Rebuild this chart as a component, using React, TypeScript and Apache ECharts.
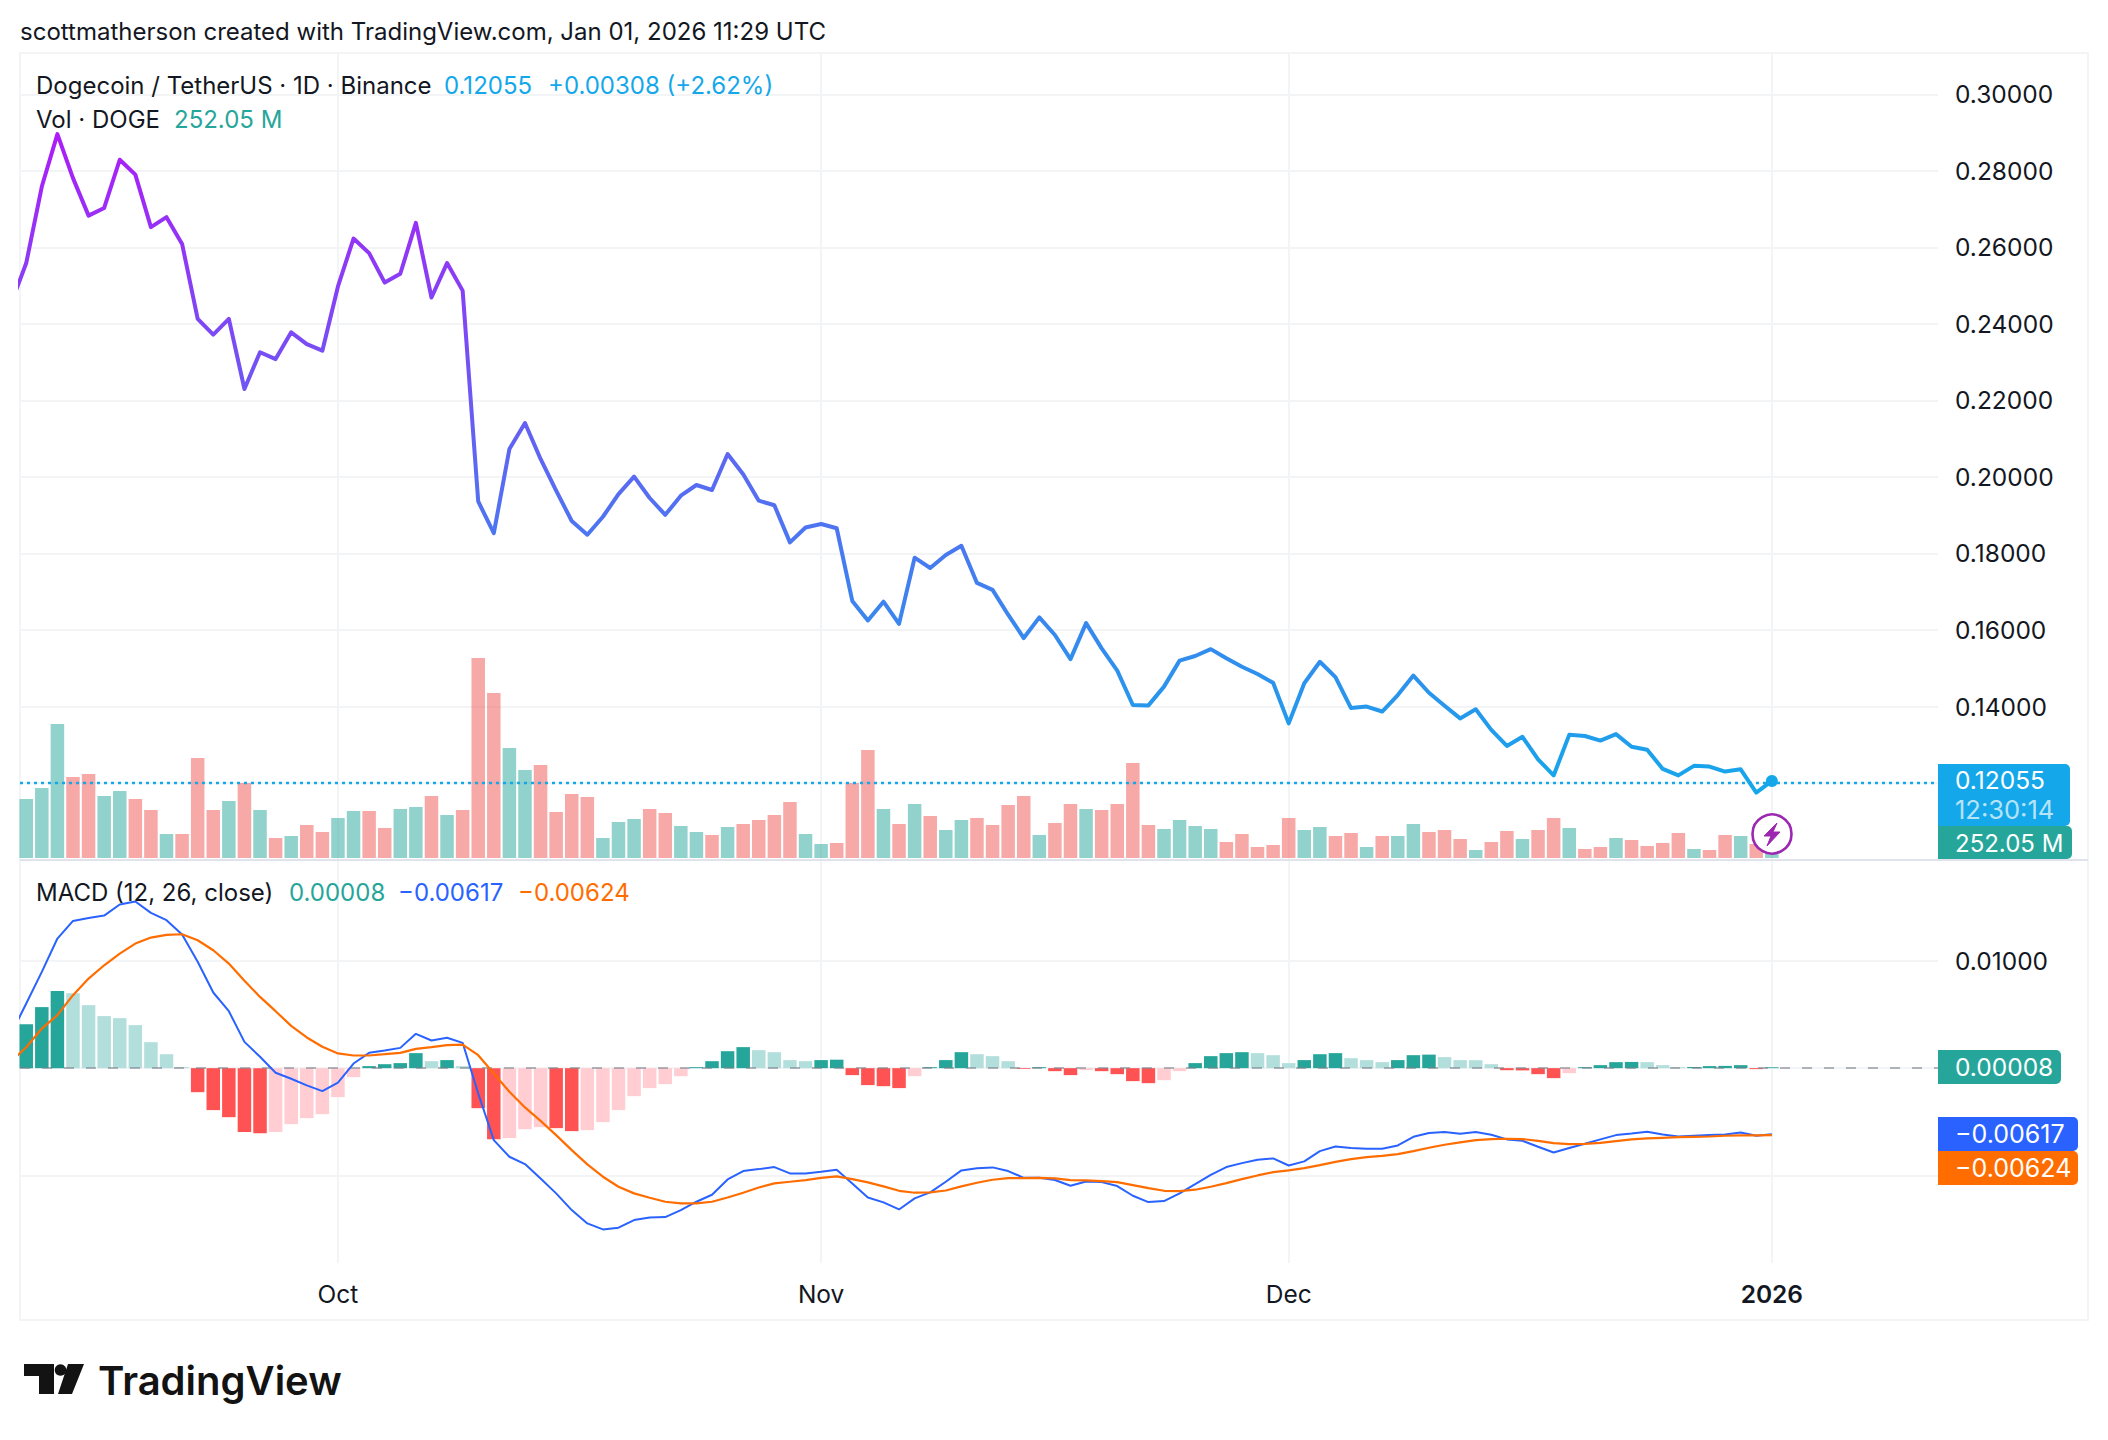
import React, { useEffect, useRef } from "react";
import * as echarts from "echarts";

const DAY = 86400000;
const START = Date.UTC(2025, 8, 10); // first close: 10 Sep 2025
const MONTH_TICKS = [Date.UTC(2025, 9, 1), Date.UTC(2025, 10, 1), Date.UTC(2025, 11, 1), Date.UTC(2026, 0, 1)];
const MONTH_LABELS = ["Oct", "Nov", "Dec", "2026"];
const PRICE_TICKS = ["0.30000", "0.28000", "0.26000", "0.24000", "0.22000", "0.20000", "0.18000", "0.16000", "0.14000"];

// daily closes, 10 Sep 2025 - 1 Jan 2026
const closes = [
  0.245, 0.2559, 0.2759, 0.2896, 0.2781, 0.2683, 0.2703, 0.2829, 0.279, 0.2653, 0.2679, 0.2609, 0.2413, 0.2372, 0.2413,
  0.223, 0.2326, 0.2308, 0.2378, 0.2347, 0.233,
  0.2498, 0.2623, 0.2585, 0.2508, 0.2531, 0.2664, 0.2469, 0.2559, 0.2487, 0.1936, 0.1853, 0.2073, 0.2141, 0.2047, 0.1964,
  0.1885, 0.1849, 0.1896, 0.1955, 0.2001, 0.1945, 0.1901, 0.1951, 0.1979, 0.1966, 0.206, 0.2007, 0.1938, 0.1926, 0.1829, 0.1868,
  0.1877, 0.1866, 0.1676, 0.1625, 0.1674, 0.1616, 0.1789, 0.1762, 0.1796, 0.182, 0.1723, 0.1705, 0.164, 0.1579, 0.1633,
  0.1587, 0.1524, 0.1618, 0.1552, 0.1494, 0.1404, 0.1403, 0.1452, 0.152, 0.1532, 0.155, 0.1526, 0.1504, 0.1485, 0.1462,
  0.1356, 0.1461, 0.1517, 0.1477, 0.1396, 0.14, 0.1387, 0.143, 0.1481, 0.1436, 0.1402, 0.1369, 0.1393, 0.1339, 0.1297,
  0.1321, 0.1262, 0.122, 0.1326, 0.1323, 0.1311, 0.1328, 0.1295, 0.1287, 0.1237, 0.122, 0.1245, 0.1243, 0.123, 0.1236, 0.1175,
  0.12055,
];

// daily volume in millions of DOGE, 11 Sep 2025 - 1 Jan 2026
const volumes = [
  1770, 2100, 4020, 2430, 2520, 1860, 2010, 1770, 1440, 720, 720, 3000, 1440, 1710, 2250, 1440, 600, 660, 990, 780,
  1200, 1410, 1410, 900, 1470, 1530, 1860, 1290, 1440, 6000, 4950, 3300, 2640, 2790, 1380, 1920, 1830, 600, 1080, 1170,
  1470, 1350, 960, 780, 690, 930, 1020, 1140, 1290, 1680, 720,
  420, 450, 2250, 3240, 1470, 1020, 1620, 1260, 840, 1140, 1200, 990, 1590, 1860, 690, 1050, 1620, 1470, 1440, 1620, 2850,
  990, 870, 1140, 960, 870, 480, 720, 330, 390,
  1200, 840, 930, 660, 750, 330, 660, 660, 1020, 780, 840, 570, 240, 480, 810, 570, 840, 1200, 900, 270, 330, 600, 540,
  360, 450, 750, 270, 240, 690, 660, 420, 252.05,
];

// MACD line, 10 Sep 2025 - 1 Jan 2026
const macdLine = [
  0.0031, 0.00602, 0.00897, 0.01208, 0.01372, 0.014, 0.01422, 0.01525, 0.01553, 0.01447, 0.01379, 0.01245, 0.00991,
  0.00705, 0.00531, 0.00245, 0.00106, -0.00043, -0.00099, -0.00161, -0.00214,
  -0.00134, 0.00043, 0.00143, 0.00165, 0.00189, 0.0032, 0.00258, 0.00283, 0.00236, -0.00236, -0.00671, -0.00826, -0.00894,
  -0.01028, -0.01167, -0.01323, -0.01447, -0.01503, -0.01487, -0.01416, -0.01391, -0.01388, -0.01323, -0.01245, -0.0118,
  -0.01037, -0.00959, -0.00941, -0.00922, -0.00981, -0.00981,
  -0.00966, -0.00947, -0.01074, -0.01205, -0.01251, -0.01317, -0.01214, -0.01158, -0.01059, -0.00953, -0.00932, -0.00925,
  -0.00959, -0.01022, -0.01022, -0.01043, -0.01096, -0.01056, -0.01062, -0.01099, -0.01189, -0.01248, -0.01239, -0.01167,
  -0.01081, -0.00994, -0.00922, -0.00885, -0.00854, -0.00841,
  -0.00907, -0.00869, -0.00773, -0.0073, -0.00745, -0.00751, -0.00751, -0.0072, -0.0064, -0.00605, -0.00596, -0.00612,
  -0.00596, -0.00621, -0.00664, -0.00677, -0.00733, -0.00786, -0.00745, -0.00705, -0.00664, -0.00624, -0.00609, -0.00593,
  -0.00618, -0.00637, -0.0063, -0.00624, -0.00618, -0.00599, -0.0063, -0.00617,
];

// signal line, 10 Sep 2025 - 1 Jan 2026
const signalLine = [
  0.0006, 0.00195, 0.00369, 0.00494, 0.0068, 0.00835, 0.00959, 0.01068, 0.01161, 0.01217, 0.01242, 0.01248, 0.01192,
  0.01099, 0.00975, 0.00814, 0.00664, 0.00531, 0.00394, 0.00286, 0.00199,
  0.00137, 0.00118, 0.00118, 0.0013, 0.00143, 0.0018, 0.00196, 0.00214, 0.0022, 0.00121, -0.0005, -0.0022, -0.00366,
  -0.00491, -0.00624, -0.00764, -0.00897, -0.01012, -0.01105, -0.01167, -0.01208, -0.01245, -0.01261, -0.01261, -0.01245,
  -0.01205, -0.01161, -0.01112, -0.01074, -0.01059, -0.01043,
  -0.01022, -0.01009, -0.01034, -0.01065, -0.01102, -0.01143, -0.01161, -0.01158, -0.0114, -0.01102, -0.01068, -0.0104,
  -0.01025, -0.01025, -0.01022, -0.01028, -0.01043, -0.01046, -0.01053, -0.01062, -0.0109, -0.01118, -0.01143, -0.01146,
  -0.01133, -0.01105, -0.01071, -0.01034, -0.01, -0.00969,
  -0.00953, -0.00932, -0.00904, -0.00873, -0.00848, -0.00829, -0.00817, -0.00801, -0.00773, -0.00742, -0.00714, -0.00692,
  -0.00671, -0.00661, -0.00658, -0.00661, -0.00677, -0.00699, -0.00708, -0.00705, -0.00696, -0.0068, -0.00664, -0.00655,
  -0.00649, -0.00643, -0.0064, -0.00637, -0.0063, -0.00627, -0.00627, -0.00624,
];

// MACD histogram, 11 Sep 2025 - 1 Jan 2026
const macdHist = [
  0.0041, 0.00569, 0.00718, 0.00699, 0.00587, 0.00485, 0.00466, 0.00401, 0.00242, 0.0013, 0.00009, -0.00224, -0.00391,
  -0.00457, -0.00596, -0.00606, -0.00596, -0.00522, -0.00466, -0.00429,
  -0.0027, -0.00084, 0.00019, 0.00037, 0.00047, 0.0014, 0.00065, 0.00075, 0.00019, -0.00373, -0.00662, -0.00652, -0.00569,
  -0.0055, -0.00559, -0.00587, -0.00578, -0.00503, -0.00391, -0.00261, -0.00186, -0.00149, -0.00075, 0.00009, 0.00065,
  0.00158, 0.00196, 0.00168, 0.00149, 0.00075, 0.00065,
  0.00075, 0.00079, -0.00065, -0.00158, -0.00168, -0.00186, -0.00075, 0.00009, 0.00075, 0.00149, 0.0013, 0.00112, 0.00065,
  -0.00009, 0.00009, -0.00028, -0.00065, -0.00019, -0.00028, -0.00056, -0.00121, -0.0014, -0.00112, -0.00028, 0.00047,
  0.00112, 0.0014, 0.00149, 0.0014, 0.00121,
  0.00047, 0.00075, 0.0013, 0.0014, 0.00093, 0.00075, 0.00056, 0.00075, 0.00121, 0.00126, 0.00103, 0.00075, 0.00074,
  0.00037, -0.00019, -0.00021, -0.00056, -0.00093, -0.00047, 0.00009, 0.00028, 0.00056, 0.00058, 0.00056, 0.00028, 0.00009,
  0.00011, 0.00019, 0.00021, 0.00028, -0.00009, 0.00008,
];

const FONT = "Inter";
const INK = "#131722";
const GRID = "#f3f4f6";
const UP = "#26a69a";
const BLUE = "#14a8ea";
const MACD_BLUE = "#2962ff";
const SIGNAL_ORANGE = "#ff6d00";

const X_MIN = Date.UTC(2025, 9, 1) - 20.4 * DAY;
const X_MAX = Date.UTC(2026, 0, 1) + 10.66 * DAY;
const t = (i: number) => START + i * DAY;

const label = (text: string, x: number, y: number, fill: string, extra: any = {}) => ({
  type: "text",
  x,
  y,
  silent: true,
  z: extra.z || 10,
  style: { text, fill, font: `${extra.weight || 400} ${extra.size || 24}px ${FONT}`, verticalAlign: "middle", align: extra.align || "left" },
});

const priceBox = (x: number, y: number, w: number, h: number, fill: string) => ({
  type: "rect",
  silent: true,
  z: 9,
  shape: { x, y, width: w, height: h, r: [0, 5, 5, 0] },
  style: { fill },
});

function buildOption() {
  const xBase = {
    type: "value",
    min: X_MIN,
    max: X_MAX,
    axisLine: { show: false },
    axisTick: { show: false, customValues: MONTH_TICKS },
    splitLine: { show: true, lineStyle: { color: GRID, width: 2 } },
  };
  const volumeData = volumes.map((v, i) => ({
    value: [t(i + 1), v],
    itemStyle: { color: closes[i + 1] >= closes[i] ? "rgba(38,166,154,0.5)" : "rgba(239,83,80,0.5)" },
  }));
  const histData = macdHist.map((v, i) => {
    const prev = i === 0 ? 0 : macdHist[i - 1];
    const color = v >= 0 ? (v > prev ? UP : "#b2dfdb") : v < prev ? "#ff5252" : "#ffcdd2";
    return { value: [t(i + 1), v], itemStyle: { color } };
  });
  return {
    animation: false,
    backgroundColor: "#ffffff",
    textStyle: { fontFamily: FONT },
    grid: [
      { left: 20, width: 1918, top: 53, height: 806.6 },
      { left: 20, width: 1918, top: 53, height: 805 },
      { left: 20, width: 1918, top: 860, height: 403 },
    ],
    xAxis: [
      { ...xBase, gridIndex: 0, axisLabel: { show: false } },
      { ...xBase, gridIndex: 1, axisLabel: { show: false }, splitLine: { show: false } },
      {
        ...xBase,
        gridIndex: 2,
        axisLabel: {
          show: true,
          customValues: MONTH_TICKS,
          margin: 18,
          color: INK,
          fontFamily: FONT,
          fontSize: 24.5,
          formatter: (v: number) => {
            const s = MONTH_LABELS[MONTH_TICKS.indexOf(v)] || "";
            return s === "2026" ? `{b|${s}}` : s;
          },
          rich: { b: { fontWeight: 600, fontSize: 24.5, fontFamily: FONT, color: INK } },
        },
      },
    ],
    yAxis: [
      {
        type: "value",
        gridIndex: 0,
        position: "right",
        min: 0.1,
        max: 0.3108,
        interval: 0.02,
        axisLine: { show: false },
        axisTick: { show: false },
        splitLine: { show: true, lineStyle: { color: GRID, width: 2 } },
        axisLabel: {
          margin: 17,
          color: INK,
          fontFamily: FONT,
          fontSize: 24.5,
          showMaxLabel: false,
          formatter: (v: number) => {
            const s = v.toFixed(5);
            return PRICE_TICKS.includes(s) ? s : "";
          },
        },
      },
      { type: "value", gridIndex: 1, min: 0, max: 24150, show: false, splitLine: { show: false } },
      {
        type: "value",
        gridIndex: 2,
        position: "right",
        min: -0.01816,
        max: 0.0194,
        axisLine: { show: false },
        axisTick: { show: false, customValues: [-0.01, 0, 0.01] },
        splitLine: { show: true, lineStyle: { color: GRID, width: 2 } },
        axisLabel: {
          margin: 17,
          color: INK,
          fontFamily: FONT,
          fontSize: 24.5,
          customValues: [0.01],
          formatter: (v: number) => v.toFixed(5),
        },
      },
    ],
    series: [
      { type: "bar", name: "Vol", xAxisIndex: 1, yAxisIndex: 1, barWidth: 13.5, data: volumeData, z: 2, silent: true },
      {
        type: "line",
        name: "Close",
        xAxisIndex: 0,
        yAxisIndex: 0,
        showSymbol: false,
        symbol: "none",
        z: 5,
        silent: true,
        lineStyle: {
          width: 4,
          join: "round",
          color: new echarts.graphic.LinearGradient(0, 0, 0, 1, [
            { offset: 0, color: "#ad1cf8" },
            { offset: 0.5, color: "#5c68f2" },
            { offset: 1, color: "#14a8ea" },
          ]),
        },
        data: closes.map((v, i) => [t(i), v]),
        markLine: {
          silent: true,
          symbol: "none",
          label: { show: false },
          lineStyle: { color: BLUE, type: [3, 4], width: 2.4 },
          data: [{ yAxis: closes[closes.length - 1] }],
        },
        markPoint: {
          silent: true,
          symbol: "circle",
          symbolSize: 12,
          itemStyle: { color: BLUE },
          label: { show: false },
          data: [{ coord: [t(closes.length - 1), closes[closes.length - 1]] }],
        },
      },
      {
        type: "bar",
        name: "Histogram",
        xAxisIndex: 2,
        yAxisIndex: 2,
        barWidth: 13.5,
        data: histData,
        z: 2,
        silent: true,
        markLine: {
          silent: true,
          symbol: "none",
          label: { show: false },
          lineStyle: { color: "rgba(120,123,134,0.55)", type: [10, 12], width: 2 },
          data: [{ yAxis: 0 }],
        },
      },
      {
        type: "line",
        name: "MACD",
        xAxisIndex: 2,
        yAxisIndex: 2,
        showSymbol: false,
        symbol: "none",
        z: 5,
        silent: true,
        lineStyle: { width: 2, color: MACD_BLUE },
        data: macdLine.map((v, i) => [t(i), v]),
      },
      {
        type: "line",
        name: "Signal",
        xAxisIndex: 2,
        yAxisIndex: 2,
        showSymbol: false,
        symbol: "none",
        z: 6,
        silent: true,
        lineStyle: { width: 2.2, color: SIGNAL_ORANGE },
        data: signalLine.map((v, i) => [t(i), v]),
      },
    ],
    graphic: [
      { type: "rect", silent: true, z: 0, shape: { x: 20, y: 53, width: 2068, height: 1267 }, style: { fill: "none", stroke: "#f3f4f6", lineWidth: 2 } },
      { type: "line", silent: true, z: 1, shape: { x1: 20, y1: 860, x2: 2088, y2: 860 }, style: { stroke: "#e0e3eb", lineWidth: 2 } },
      label("scottmatherson created with TradingView.com, Jan 01, 2026 11:29 UTC", 20, 31.5, INK),
      label("Dogecoin / TetherUS · 1D · Binance", 36, 85.5, INK),
      label("0.12055", 444, 85.5, BLUE),
      label("+0.00308 (+2.62%)", 548, 85.5, BLUE),
      label("Vol · DOGE", 36, 119.5, INK),
      label("252.05 M", 174, 119.5, UP),
      label("MACD (12, 26, close)", 36, 892, INK),
      label("0.00008", 289, 892, UP),
      label("−0.00617", 398, 892, MACD_BLUE),
      label("−0.00624", 518, 892, SIGNAL_ORANGE),
      priceBox(1938, 764, 132, 62, BLUE),
      priceBox(1938, 826, 134, 33, UP),
      label("0.12055", 1955, 780, "#ffffff", { size: 24.5 }),
      label("12:30:14", 1955, 809, "rgba(255,255,255,0.7)", { size: 25.5 }),
      label("252.05 M", 1955, 843, "#ffffff"),
      priceBox(1938, 1050, 123, 34, UP),
      priceBox(1938, 1117, 140, 34, MACD_BLUE),
      priceBox(1938, 1151, 140, 34, SIGNAL_ORANGE),
      label("0.00008", 1955, 1067, "#ffffff", { size: 24.5 }),
      label("−0.00617", 1955, 1134, "#ffffff", { size: 25 }),
      label("−0.00624", 1955, 1168, "#ffffff", { size: 25 }),
      { type: "circle", silent: true, z: 20, shape: { cx: 1772, cy: 834, r: 19.5 }, style: { fill: "#ffffff", stroke: "#9c27b0", lineWidth: 2.6 } },
      { type: "polygon", silent: true, z: 21, shape: { points: [[1777, 823], [1764, 836], [1771, 836], [1767, 846], [1780, 832], [1773, 832]] }, style: { fill: "#9c27b0", stroke: "#9c27b0", lineWidth: 1, lineJoin: "round" } },
      { type: "polygon", silent: true, shape: { points: [[24, 1364], [54, 1364], [54, 1394], [39, 1394], [39, 1376], [24, 1376]] }, style: { fill: "#131313" } },
      { type: "circle", silent: true, shape: { cx: 60.5, cy: 1370, r: 5.8 }, style: { fill: "#131313" } },
      { type: "polygon", silent: true, shape: { points: [[68, 1364], [84, 1364], [72, 1394], [58, 1394]] }, style: { fill: "#131313" } },
      label("TradingView", 98, 1380, "#131313", { size: 40, weight: 600 }),
    ],
  };
}

export default function App() {
  const ref = useRef<HTMLDivElement>(null);
  useEffect(() => {
    const chart = echarts.init(ref.current!, null, { renderer: "svg" });
    chart.setOption(buildOption() as any);
    return () => chart.dispose();
  }, []);
  return <div ref={ref} style={{ position: "absolute", left: 0, top: 0, width: 2108, height: 1440 }} />;
}
